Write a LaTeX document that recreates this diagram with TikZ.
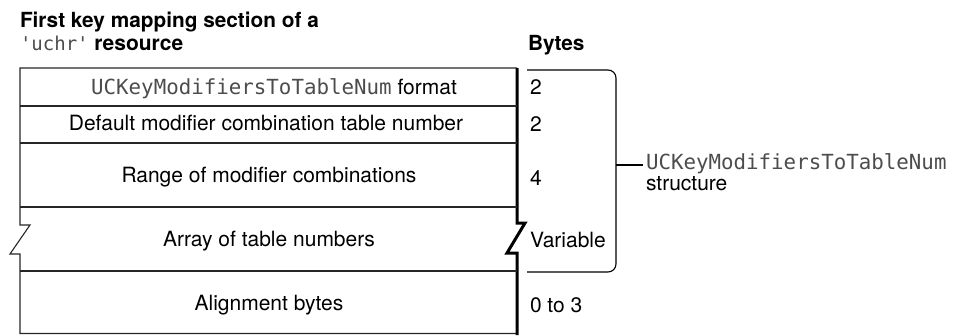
\documentclass[tikz,border=0pt]{standalone}
\usepackage{fontspec}
\setmainfont{TeX Gyre Heros}
\newfontfamily\codefont{DejaVu Sans Mono}
\begin{document}
\begin{tikzpicture}[x=1pt,y=-1pt,
  font=\fontsize{21}{25}\selectfont,
  every node/.style={inner sep=0pt, outer sep=0pt},
  rowline/.style={line width=1.1pt, draw=black!85},
  thickline/.style={line width=3pt, line join=miter},
  code/.style={font=\fontsize{20.8}{25}\selectfont\codefont, text=black!70},
  celltext/.style={anchor=base},
  bytetext/.style={anchor=base west},
  brace/.style={line width=1.1pt, rounded corners=8pt}]
\useasboundingbox (0,0) rectangle (956,335);

% titles
\node[anchor=base west, font=\fontsize{20.8}{25}\selectfont\bfseries] (t1) at (20,27) {First key mapping section of a};
\node[anchor=base west] (t2) at (20,50) {{\fontsize{19}{25}\selectfont\codefont\color{black!70}'uchr'} \textbf{resource}};
\node[anchor=base west, font=\fontsize{20.8}{25}\selectfont\bfseries] (bytes) at (528,50) {Bytes};

% box outline
\draw[rowline] (517,68) -- (20,68) -- (20,225) -- (30,225) -- (10,254) -- (20,254) -- (20,333.5) -- (517,333.5);
\draw[thickline] (517,68) -- (517,223) -- (525,223) -- (507,253) -- (517,253) -- (517,335);

% row dividers
\draw[rowline] (20,106) -- (517,106);
\draw[rowline] (20,143) -- (517,143);
\draw[rowline] (20,207) -- (517,207);
\draw[rowline] (20,271) -- (517,271);

% cell texts
\node[celltext] (r1) at (274,94) {{\fontsize{20.8}{25}\selectfont\codefont\color{black!70}UCKeyModifiersToTableNum} format};
\node[celltext] (r2) at (266,130) {Default modifier combination table number};
\node[celltext] (r3) at (269,182) {Range of modifier combinations};
\node[celltext] (r4) at (269,246) {Array of table numbers};
\node[celltext] (r5) at (269,310) {Alignment bytes};

% byte texts
\node[bytetext] (b1) at (530,94) {2};
\node[bytetext] (b2) at (530,131) {2};
\node[bytetext] (b3) at (530,185) {4};
\node[bytetext] (b4) at (530,247) {Variable};
\node[bytetext] (b5) at (530,312) {0 to 3};

% bracket
\draw[brace] (527,70) -- (616,70) -- (616,272) -- (527,272);
\coordinate (brk) at (616,165);
\node[anchor=base west, code] (sname) at (646,169) {UCKeyModifiersToTableNum};
\node[anchor=base west] (sword) at (646,190) {structure};
\draw[line width=1.1pt, shorten >=3pt] (brk) -- (brk -| sname.west);
\end{tikzpicture}
\end{document}
